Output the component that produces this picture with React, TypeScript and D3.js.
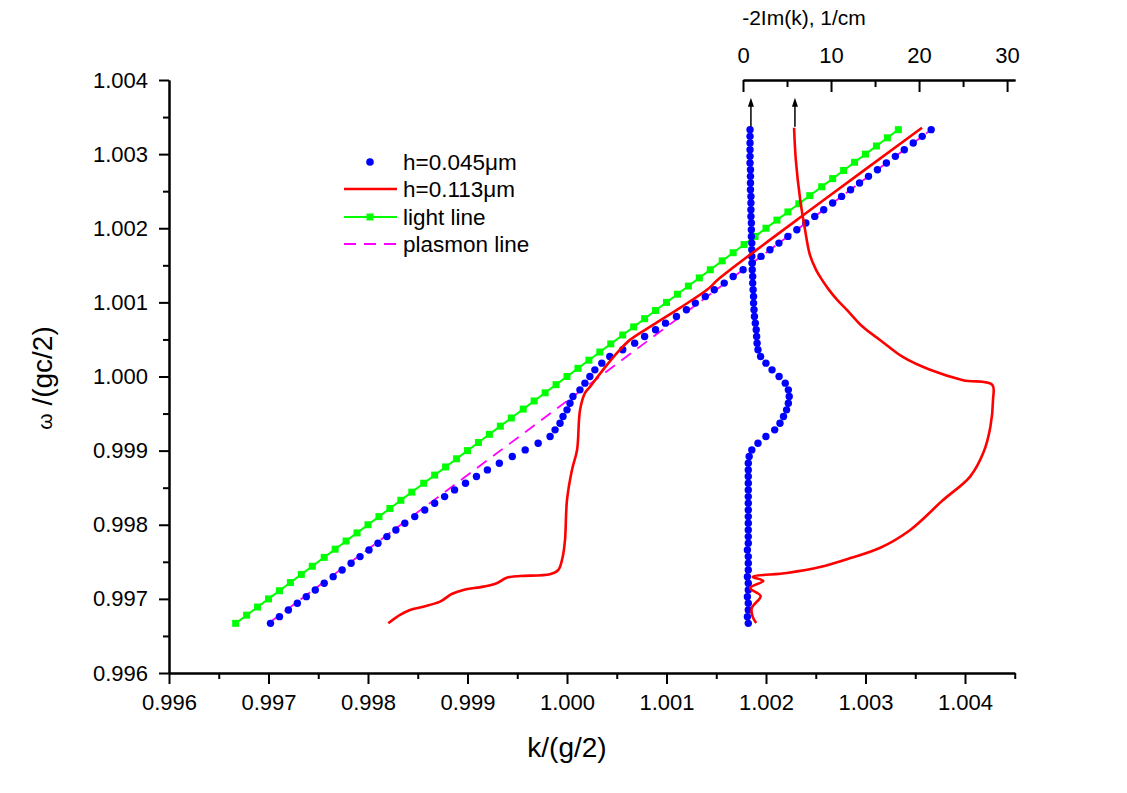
import React, { useEffect, useRef } from 'react';
import * as d3 from 'd3';

const W = 1127;
const H = 793;
const FONT = '"Liberation Sans", Arial, Helvetica, sans-serif';

// ---- tick labels ----
const kTicks = [0.996, 0.997, 0.998, 0.999, 1.0, 1.001, 1.002, 1.003, 1.004];
const kMinor = [0.9965, 0.9975, 0.9985, 0.9995, 1.0005, 1.0015, 1.0025, 1.0035, 1.0045];
const omegaTicks = [0.996, 0.997, 0.998, 0.999, 1.0, 1.001, 1.002, 1.003, 1.004];
const omegaMinor = [0.9965, 0.9975, 0.9985, 0.9995, 1.0005, 1.0015, 1.0025, 1.0035];
const imTicks = [0, 10, 20, 30];
const imMinor = [5, 15, 25];

// ---- legend ----
const legendLabels = ['h=0.045\u03bcm', 'h=0.113\u03bcm', 'light line', 'plasmon line'];

// ---- light line (omega = k) ----
const lightK = [
  0.99667, 0.99678, 0.99689, 0.997, 0.99711, 0.99722, 0.99733, 0.99744, 0.99756, 0.99767,
  0.99778, 0.99789, 0.998, 0.99811, 0.99822, 0.99833, 0.99844, 0.99856, 0.99867, 0.99878,
  0.99889, 0.999, 0.99911, 0.99922, 0.99933, 0.99944, 0.99956, 0.99967, 0.99978, 0.99989,
  1.0, 1.00011, 1.00022, 1.00033, 1.00044, 1.00056, 1.00067, 1.00078, 1.00089, 1.001,
  1.00111, 1.00122, 1.00133, 1.00144, 1.00156, 1.00167, 1.00178, 1.00189, 1.002, 1.00211,
  1.00222, 1.00233, 1.00244, 1.00256, 1.00267, 1.00278, 1.00289, 1.003, 1.00311, 1.00322,
  1.00333,
];
const lightOmega = lightK;

// ---- plasmon line ----
const plasmonK = [0.997, 1.00366];
const plasmonOmega = [0.99667, 1.00333];

// ---- h = 0.045 um (blue dots) ----
const blueOmega = [
  0.99667, 0.99676, 0.99685, 0.99694, 0.99703, 0.99712, 0.99721, 0.9973, 0.99739, 0.99748,
  0.99757, 0.99766, 0.99775, 0.99784, 0.99793, 0.99802, 0.99811, 0.9982, 0.99829, 0.99838,
  0.99847, 0.99856, 0.99865, 0.99874, 0.99883, 0.99892, 0.99901, 0.9991, 0.99919, 0.99928,
  0.99937, 0.99946, 0.99955, 0.99964, 0.99973, 0.99982, 0.99991, 1.0, 1.00009, 1.00018,
  1.00027, 1.00036, 1.00045, 1.00054, 1.00063, 1.00072, 1.00081, 1.0009, 1.00099, 1.00108,
  1.00117, 1.00126, 1.00135, 1.00144, 1.00153, 1.00162, 1.00171, 1.0018, 1.00189, 1.00198,
  1.00207, 1.00216, 1.00225, 1.00234, 1.00243, 1.00252, 1.00261, 1.0027, 1.00279, 1.00288,
  1.00297, 1.00306, 1.00315, 1.00324, 1.00333,
];
const blueK = [
  0.99702, 0.99711, 0.9972, 0.99729, 0.99738, 0.99747, 0.99756, 0.99765, 0.99774, 0.99783,
  0.99792, 0.99801, 0.9981, 0.99819, 0.99828, 0.99837, 0.99847, 0.99857, 0.99867, 0.99877,
  0.99887, 0.99898, 0.99909, 0.9992, 0.99932, 0.99945, 0.99958, 0.99971, 0.99983, 0.99988,
  0.99993, 0.99996, 1.0, 1.00003, 1.00006, 1.00013, 1.00018, 1.00023, 1.00028, 1.00035,
  1.00043, 1.00056, 1.00068, 1.00078, 1.00089, 1.00099, 1.0011, 1.0012, 1.00129, 1.00139,
  1.00148, 1.00158, 1.00167, 1.00177, 1.00186, 1.00195, 1.00204, 1.00213, 1.00222, 1.00231,
  1.0024, 1.00249, 1.00258, 1.00267, 1.00276, 1.00285, 1.00294, 1.00303, 1.00312, 1.00321,
  1.0033, 1.00339, 1.00348, 1.00357, 1.00366,
];
const blueIm = [
  0.6, 0.5, 0.6, 0.6, 0.5, 0.6, 0.6, 0.5, 0.6, 0.6,
  0.6, 0.5, 0.6, 0.6, 0.6, 0.6, 0.6, 0.6, 0.6, 0.6,
  0.6, 0.6, 0.6, 0.6, 0.6, 0.7, 1.0, 1.7, 2.6, 3.6,
  4.2, 4.6, 4.95, 5.15, 5.25, 5.15, 4.8, 4.1, 3.3, 2.6,
  2.0, 1.7, 1.6, 1.55, 1.5, 1.4, 1.3, 1.25, 1.2, 1.2,
  1.15, 1.1, 1.1, 1.05, 1.05, 1.0, 1.0, 1.0, 0.95, 0.95,
  0.95, 0.9, 0.9, 0.9, 0.9, 0.85, 0.85, 0.85, 0.85, 0.8,
  0.8, 0.8, 0.8, 0.8, 0.8,
];

// ---- h = 0.113 um (red) dispersion ----
const redK = [
  0.998204, 0.998322, 0.998422, 0.998556, 0.998724, 0.998841, 0.998958, 0.999159, 0.999293, 0.999394,
  0.999528, 0.999829, 0.999913, 0.999957, 0.99998, 1.0, 1.00005, 1.000101, 1.000131, 1.000181,
  1.000231, 1.000362, 1.000503, 1.000633, 1.000864, 1.001136, 1.001407, 1.001538, 1.002543, 1.003568,
];
const redOmega = [
  0.996671, 0.996783, 0.99685, 0.996895, 0.996962, 0.997066, 0.99712, 0.997165, 0.997211, 0.997286,
  0.997309, 0.997332, 0.99739, 0.997569, 0.997795, 0.998335, 0.99874, 0.999009, 0.999549, 0.999779,
  0.99986, 1.000089, 1.000318, 1.000494, 1.000696, 1.000926, 1.001169, 1.001331, 1.002343, 1.003355,
];

// ---- h = 0.113 um (red) -2Im(k) ----
const redImOmega = [
  1.003355, 1.002923, 1.002383, 1.001978, 1.001641, 1.001439, 1.001304, 1.001169, 1.001034, 1.000899,
  1.00067, 1.00049, 1.00026, 1.00009, 0.99995, 0.99989, 0.99968, 0.99932, 0.99897, 0.99865,
  0.99833, 0.99793, 0.99769, 0.99755, 0.99743, 0.99735, 0.997296, 0.997242, 0.997147, 0.997039,
  0.996877, 0.996756, 0.996675,
];
const redIm = [
  5.8, 6.0, 6.5, 7.05, 7.6, 8.3, 8.98, 9.77, 10.7, 11.8,
  13.6, 15.6, 18.2, 21.25, 25.0, 28.3, 28.4, 28.1, 27.3, 25.8,
  22.7, 19.0, 15.6, 12.2, 8.75, 5.0, 1.1, 2.3, 0.8, 2.0,
  1.0, 1.1, 1.5,
];

// ---- arrows marking curves belonging to the top axis ----
const arrowIm = [0.9, 5.9];
const arrowOmega = [1.00337, 1.00376];

export default function App() {
  const ref = useRef<SVGSVGElement>(null);

  useEffect(() => {
    const svg = d3.select(ref.current);
    svg.selectAll('*').remove();

    const x = d3.scaleLinear().domain([0.996, 1.0045]).range([169, 1014.75]);
    const y = d3.scaleLinear().domain([0.996, 1.004]).range([673, 80]);
    const xTop = d3.scaleLinear().domain([0, 30.9]).range([743, 1015]);

    svg.append('rect').attr('width', W).attr('height', H).attr('fill', '#fff');

    const plot = svg.append('g');

    // light line
    const lightPts = lightK.map((k, i) => [x(k), y(lightOmega[i])] as [number, number]);
    plot.append('path')
      .attr('d', d3.line()(lightPts))
      .attr('fill', 'none').attr('stroke', '#00ff00').attr('stroke-width', 2);
    plot.selectAll('rect.lt').data(lightPts).enter().append('rect')
      .attr('x', (d) => d[0] - 3.5).attr('y', (d) => d[1] - 3.5)
      .attr('width', 7).attr('height', 7).attr('fill', '#00ff00');

    // plasmon line
    const plPts = plasmonK.map((k, i) => [x(k), y(plasmonOmega[i])] as [number, number]);
    plot.append('path')
      .attr('d', d3.line()(plPts))
      .attr('fill', 'none').attr('stroke', '#ff00ff').attr('stroke-width', 1.8)
      .attr('stroke-dasharray', '12,8');

    // blue dots (dispersion)
    plot.selectAll('circle.bd').data(blueK).enter().append('circle')
      .attr('cx', (k) => x(k)).attr('cy', (_, i) => y(blueOmega[i]))
      .attr('r', 3.7).attr('fill', '#0000ff');
    // blue dots (-2Im k)
    plot.selectAll('circle.bi').data(blueIm).enter().append('circle')
      .attr('cx', (v) => xTop(v)).attr('cy', (_, i) => y(blueOmega[i]))
      .attr('r', 3.7).attr('fill', '#0000ff');

    // red lines
    const curve = d3.curveCatmullRom.alpha(0.5);
    const redPts = redK.map((k, i) => [x(k), y(redOmega[i])] as [number, number]);
    plot.append('path')
      .attr('d', d3.line().curve(curve)(redPts))
      .attr('fill', 'none').attr('stroke', '#ff0000').attr('stroke-width', 2.6)
      .attr('stroke-linejoin', 'round');
    const redImPts = redIm.map((v, i) => [xTop(v), y(redImOmega[i])] as [number, number]);
    plot.append('path')
      .attr('d', d3.line().curve(curve)(redImPts))
      .attr('fill', 'none').attr('stroke', '#ff0000').attr('stroke-width', 2.6)
      .attr('stroke-linejoin', 'round');

    // arrows
    arrowIm.forEach((v) => {
      const ax = xTop(v);
      const y0 = y(arrowOmega[0]);
      const y1 = y(arrowOmega[1]);
      plot.append('line').attr('x1', ax).attr('x2', ax).attr('y1', y0).attr('y2', y1 + 6)
        .attr('stroke', '#000').attr('stroke-width', 1.5);
      plot.append('path')
        .attr('d', `M${ax},${y1} L${ax - 3},${y1 + 9} L${ax + 3},${y1 + 9} Z`)
        .attr('fill', '#000');
    });

    // axes
    const styleAxis = (g: any) => {
      g.selectAll('path.domain').attr('stroke', '#000').attr('stroke-width', 2);
      g.selectAll('line').attr('stroke', '#000').attr('stroke-width', 2);
      g.selectAll('text').attr('font-family', FONT).attr('font-size', 22).attr('fill', '#000');
      g.attr('font-family', null).attr('font-size', null);
    };

    const gB = svg.append('g').attr('transform', 'translate(0,673)');
    gB.call(d3.axisBottom(x).tickValues(kTicks).tickSize(11).tickSizeOuter(0).tickPadding(10)
      .tickFormat(d3.format('.3f') as any));
    styleAxis(gB);
    const gBm = svg.append('g').attr('transform', 'translate(0,673)');
    gBm.call(d3.axisBottom(x).tickValues(kMinor).tickSize(6).tickSizeOuter(0).tickFormat(() => ''));
    styleAxis(gBm);

    const gL = svg.append('g').attr('transform', 'translate(169,0)');
    gL.call(d3.axisLeft(y).tickValues(omegaTicks).tickSize(10).tickSizeOuter(0).tickPadding(11)
      .tickFormat(d3.format('.3f') as any));
    styleAxis(gL);
    const gLm = svg.append('g').attr('transform', 'translate(169,0)');
    gLm.call(d3.axisLeft(y).tickValues(omegaMinor).tickSize(6).tickSizeOuter(0).tickFormat(() => ''));
    styleAxis(gLm);

    const gT = svg.append('g').attr('transform', 'translate(0,80)');
    gT.call(d3.axisTop(xTop).tickValues(imTicks).tickSizeInner(-12).tickSizeOuter(0).tickPadding(17)
      .tickFormat(d3.format('d') as any));
    styleAxis(gT);
    const gTm = svg.append('g').attr('transform', 'translate(0,80)');
    gTm.call(d3.axisTop(xTop).tickValues(imMinor).tickSizeInner(-7).tickSizeOuter(0).tickFormat(() => ''));
    styleAxis(gTm);

    // axis titles
    svg.append('text').attr('x', 567).attr('y', 757).attr('text-anchor', 'middle')
      .attr('font-family', FONT).attr('font-size', 28).text('k/(g/2)');
    const lt = svg.append('text').attr('transform', 'translate(52,378) rotate(-90)')
      .attr('text-anchor', 'middle').attr('font-family', FONT).attr('font-size', 28);
    lt.append('tspan').attr('font-size', 21).text('\u03c9');
    lt.append('tspan').text(' /(gc/2)');
    svg.append('text').attr('x', 804).attr('y', 25).attr('text-anchor', 'middle')
      .attr('font-family', FONT).attr('font-size', 21).text('-2Im(k), 1/cm');

    // legend
    const ly = [162, 189, 217, 244];
    const lg = svg.append('g');
    lg.append('circle').attr('cx', 370).attr('cy', ly[0]).attr('r', 3.8).attr('fill', '#0000ff');
    lg.append('line').attr('x1', 344).attr('x2', 397).attr('y1', ly[1]).attr('y2', ly[1])
      .attr('stroke', '#ff0000').attr('stroke-width', 2.6);
    lg.append('line').attr('x1', 344).attr('x2', 397).attr('y1', ly[2]).attr('y2', ly[2])
      .attr('stroke', '#00ff00').attr('stroke-width', 2);
    lg.append('rect').attr('x', 366.5).attr('y', ly[2] - 3.5).attr('width', 7).attr('height', 7)
      .attr('fill', '#00ff00');
    lg.append('line').attr('x1', 344).attr('x2', 397).attr('y1', ly[3]).attr('y2', ly[3])
      .attr('stroke', '#ff00ff').attr('stroke-width', 1.8).attr('stroke-dasharray', '12,8');
    legendLabels.forEach((t, i) => {
      lg.append('text').attr('x', 403).attr('y', ly[i] + 8)
        .attr('font-family', FONT).attr('font-size', 22.5).text(t);
    });
  }, []);

  return (
    <svg
      ref={ref}
      width={W}
      height={H}
      style={{ position: 'absolute', left: 0, top: 0, display: 'block' }}
    />
  );
}
